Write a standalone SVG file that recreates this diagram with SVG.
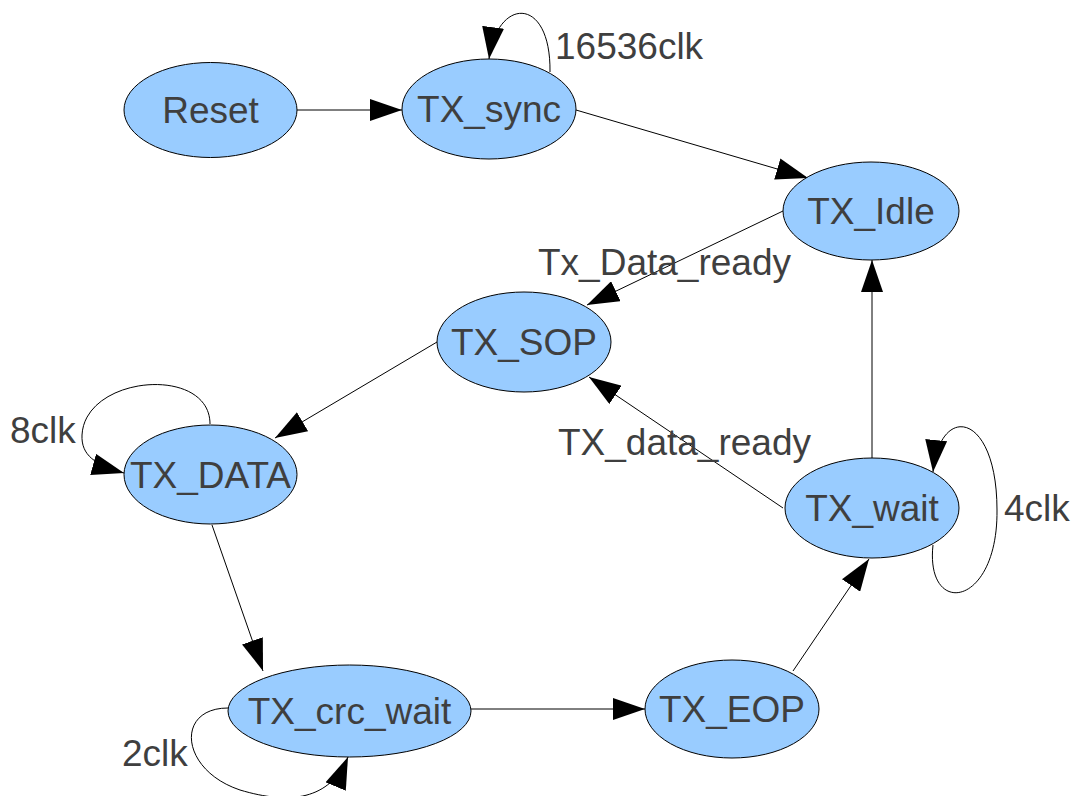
<svg xmlns="http://www.w3.org/2000/svg" width="1074" height="796" viewBox="0 0 1074 796">
<defs>
<style>
.node ellipse{fill:#99ccff;stroke:#000;stroke-width:1}
text{font-family:"Liberation Sans",Arial,sans-serif;font-size:37px;fill:#3f3f3f}
.node text{text-anchor:middle}
.edge{fill:none;stroke:#000;stroke-width:1;marker-end:url(#ah)}
</style>
<marker id="ah" markerUnits="userSpaceOnUse" markerWidth="32" markerHeight="22" refX="32" refY="11" orient="auto">
<path d="M0,0 L32,11 L0,22 z" fill="#000"/>
</marker>
</defs>
<rect width="1074" height="796" fill="#fff"/>
<g id="connectors">
<path class="edge" d="M297,110 L402,110"/>
<path class="edge" d="M576,110 L808,178"/>
<path class="edge" d="M783,211 L587,305"/>
<path class="edge" d="M437,342 L275,438"/>
<path class="edge" d="M212,525 L263,671"/>
<path class="edge" d="M471,709 L645,709"/>
<path class="edge" d="M793,671 L869,559"/>
<path class="edge" d="M872,458 L872,260"/>
<path class="edge" d="M783,508 L589,377"/>
<path class="edge" d="M550,72 C551,-5 497,-3 489,59"/>
<path class="edge" d="M210,424 C210,365 85,375 82,435 C81,455 95,465 124,473"/>
<path class="edge" d="M228,708 C175,708 180,770 240,790 C290,805 330,800 348,757"/>
<path class="edge" d="M933,545 C925,618 998,608 997,510 C997,412 940,402 933,472"/>
<text x="555" y="59">16536clk</text>
<text x="538" y="275">Tx_Data_ready</text>
<text x="558" y="455">TX_data_ready</text>
<text x="10" y="443">8clk</text>
<text x="1004" y="521">4clk</text>
<text x="122" y="766">2clk</text>
</g>
<g id="Reset" class="node"><ellipse cx="210.5" cy="110" rx="86.5" ry="47.5"/><text x="210.5" y="123">Reset</text></g>
<g id="TX_sync" class="node"><ellipse cx="489" cy="109" rx="87" ry="50"/><text x="489" y="122">TX_sync</text></g>
<g id="TX_Idle" class="node"><ellipse cx="871" cy="211" rx="88" ry="49"/><text x="871" y="224">TX_Idle</text></g>
<g id="TX_SOP" class="node"><ellipse cx="524" cy="342" rx="87" ry="50"/><text x="524" y="355">TX_SOP</text></g>
<g id="TX_DATA" class="node"><ellipse cx="210.5" cy="474.5" rx="86.5" ry="49.5"/><text x="210.5" y="488">TX_DATA</text></g>
<g id="TX_wait" class="node"><ellipse cx="872" cy="508" rx="87" ry="50"/><text x="872" y="521">TX_wait</text></g>
<g id="TX_crc_wait" class="node"><ellipse cx="349.5" cy="711" rx="121.5" ry="46"/><text x="349.5" y="724">TX_crc_wait</text></g>
<g id="TX_EOP" class="node"><ellipse cx="732" cy="709" rx="87" ry="49"/><text x="732" y="722">TX_EOP</text></g>
</svg>
